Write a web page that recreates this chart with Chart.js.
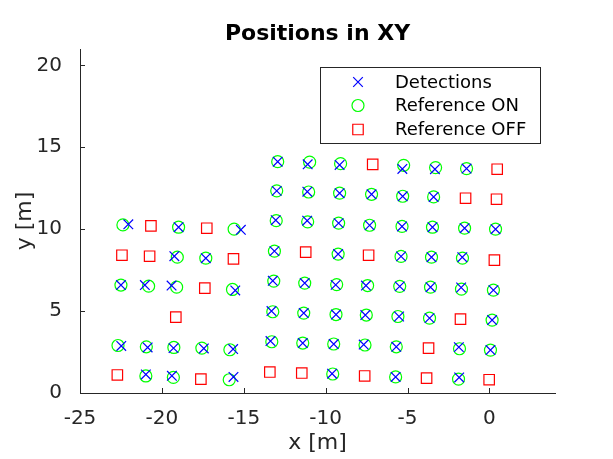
<!DOCTYPE html>
<html><head><meta charset="utf-8">
<script src="https://cdn.jsdelivr.net/npm/chart.js@4"></script>
<style>html,body{margin:0;padding:0;background:#fff}</style>
</head><body>
<canvas id="c" width="613" height="459" style="display:block;width:613px;height:459px"></canvas>
<script>
const chartTitle = 'Positions in XY';
const xLabel = 'x [m]';
const yLabel = 'y [m]';
const xRange = [-25, 4];
const yRange = [0, 21];
const xTicks = [-25, -20, -15, -10, -5, 0];
const yTicks = [0, 5, 10, 15, 20];
const seriesNames = ['Detections', 'Reference ON', 'Reference OFF'];

const detX = [-22.05,-18.98,-15.18, -19.24,-17.32, -22.50,-21.04,-19.41,-15.52, -22.48,-20.87,-19.29,-17.44,-15.65, -20.98,-19.39,-15.63,
  -12.93,-12.99,-13.05,-13.13,-13.23,-13.31,-13.37, -11.10,-11.12,-11.13,-11.28,-11.34,-11.40,
  -9.15,-9.15,-9.21,-9.24,-9.39,-9.37,-9.51,-9.61, -7.20,-7.32,-7.54,-7.58,-7.68,
  -5.32,-5.30,-5.34,-5.40,-5.48,-5.52,-5.69,-5.73, -3.33,-3.41,-3.48,-3.54,-3.60,-3.66,
  -1.40,-1.52,-1.66,-1.73,-1.87,-1.85, 0.37,0.24,0.16,0.06];
const detY = [10.30,10.12,9.96, 8.35,8.23, 6.59,6.59,6.56,6.26, 2.87,2.78,2.74,2.72,2.68, 1.13,1.05,0.98,
  14.12,12.34,10.55,8.66,6.85,5.00,3.17, 13.96,12.29,10.52,6.71,4.88,3.05,
  13.92,12.20,10.37,8.48,6.60,4.79,2.99,1.18, 12.13,10.24,6.56,4.76,2.96,
  13.68,12.01,10.17,8.34,6.51,4.67,2.82,0.98, 13.66,11.97,10.12,8.29,6.46,4.57,
  13.70,10.06,8.29,6.44,2.80,0.95, 10.00,6.28,4.45,2.62];

const onX = [-22.38,-18.98,-15.59, -19.06,-17.32, -22.50,-20.81,-19.10,-15.69, -22.68,-20.95,-19.27,-17.56,-15.85, -20.98,-19.30,-15.89,
  -12.93,-12.99,-13.02,-13.13,-13.17,-13.23,-13.29, -10.98,-11.04,-11.10,-11.28,-11.34,-11.40,
  -9.09,-9.15,-9.21,-9.24,-9.33,-9.37,-9.51,-9.57, -7.20,-7.32,-7.44,-7.52,-7.60,
  -5.24,-5.30,-5.34,-5.40,-5.48,-5.59,-5.69,-5.73, -3.29,-3.41,-3.48,-3.54,-3.60,-3.66,
  -1.40,-1.52,-1.65,-1.71,-1.83,-1.89, 0.37,0.24,0.16,0.06];
const onY = [10.26,10.12,10.00, 8.29,8.23, 6.59,6.52,6.46,6.32, 2.90,2.82,2.78,2.74,2.64, 1.04,0.95,0.81,
  14.12,12.34,10.52,8.66,6.83,4.96,3.13, 14.09,12.27,10.45,6.71,4.88,3.05,
  14.00,12.20,10.37,8.48,6.62,4.79,2.99,1.16, 12.13,10.24,6.56,4.76,2.93,
  13.90,12.01,10.17,8.34,6.51,4.67,2.82,0.98, 13.76,11.97,10.12,8.29,6.46,4.57,
  13.70,10.06,8.23,6.34,2.70,0.85, 10.00,6.28,4.45,2.62];

const offX = [-20.67,-17.26,-22.44,-20.75,-15.63,-17.38,-19.15,-22.72,-17.62,
  -13.41,-11.22,-11.46,-7.13,-7.38,-7.62,-3.72,-3.84,-1.46,-1.77,0.47,0.43,0.30,-0.02];
const offY = [10.20,10.06,8.41,8.35,8.19,6.40,4.63,1.10,0.85,
  1.28,8.60,1.22,13.96,8.41,1.04,2.74,0.91,11.89,4.51,13.66,11.83,8.11,0.81];

const FONT = '"DejaVu Sans", sans-serif';
const AXC = '#262626';
const toPts = (xs, ys) => xs.map((x, i) => ({x: x, y: ys[i]}));

const styles = [
  {pointStyle: 'crossRot', borderColor: '#0000ff', radius: 6.8},
  {pointStyle: 'circle', borderColor: '#00ff00', radius: 6},
  {pointStyle: 'rect', borderColor: '#ff0000', radius: 7.4}
];
const MW = 1.2;

const decor = {
  id: 'decor',
  afterDraw(chart) {
    const ctx = chart.ctx, a = chart.chartArea;
    const xs = chart.scales.x, ys = chart.scales.y;
    ctx.save();
    ctx.strokeStyle = AXC; ctx.lineWidth = 1;
    ctx.beginPath();
    xs.ticks.forEach(t => { const p = Math.round(xs.getPixelForValue(t.value)) + 0.5; ctx.moveTo(p, a.bottom); ctx.lineTo(p, a.bottom - 5); });
    ys.ticks.forEach(t => { const p = Math.round(ys.getPixelForValue(t.value)) + 0.5; ctx.moveTo(a.left, p); ctx.lineTo(a.left + 5, p); });
    ctx.stroke();
    const cx = (a.left + a.right) / 2;
    ctx.fillStyle = '#000';
    ctx.textAlign = 'center';
    ctx.textBaseline = 'alphabetic';
    ctx.font = 'bold 22px ' + FONT;
    ctx.fillText(chartTitle, cx, 40);
    ctx.fillStyle = AXC;
    ctx.font = '22px ' + FONT;
    ctx.fillText(xLabel, cx, 449);
    ctx.save();
    ctx.translate(25, (a.top + a.bottom) / 2);
    ctx.rotate(-Math.PI / 2);
    ctx.textBaseline = 'middle';
    ctx.fillText(yLabel, 0, 0);
    ctx.restore();
    // legend
    const bx = 320.5, by = 67.5, bw = 220, bh = 76;
    ctx.fillStyle = '#fff';
    ctx.fillRect(bx, by, bw, bh);
    ctx.strokeStyle = AXC; ctx.lineWidth = 1;
    ctx.strokeRect(bx, by, bw, bh);
    const rows = [82, 105.5, 129.5];
    ctx.font = '18px ' + FONT;
    ctx.textAlign = 'left';
    ctx.textBaseline = 'middle';
    chart.data.datasets.forEach((ds, i) => {
      ctx.strokeStyle = ds.borderColor; ctx.lineWidth = MW;
      ctx.fillStyle = 'rgba(0,0,0,0)';
      Chart.helpers.drawPoint(ctx, {pointStyle: ds.pointStyle, radius: ds.pointRadius, rotation: 0, borderWidth: MW}, 358, rows[i]);
      ctx.fillStyle = '#000';
      ctx.fillText(ds.label, 395, rows[i] + 1);
    });
    ctx.restore();
  }
};

new Chart(document.getElementById('c'), {
  type: 'scatter',
  data: {
    datasets: [toPts(detX, detY), toPts(onX, onY), toPts(offX, offY)].map((d, i) => ({
      label: seriesNames[i],
      data: d,
      pointStyle: styles[i].pointStyle,
      borderColor: styles[i].borderColor,
      backgroundColor: 'rgba(0,0,0,0)',
      pointRadius: styles[i].radius,
      pointBorderWidth: MW,
      pointHoverRadius: styles[i].radius
    }))
  },
  options: {
    responsive: false,
    animation: false,
    events: [],
    layout: {padding: {top: 49, right: 58, left: 0, bottom: 0}},
    plugins: {legend: {display: false}, title: {display: false}, tooltip: {enabled: false}},
    scales: {
      x: {
        type: 'linear', min: xRange[0], max: xRange[1],
        afterBuildTicks: s => { s.ticks = xTicks.map(v => ({value: v})); },
        afterFit: s => { s.height = 66; },
        grid: {display: false},
        border: {display: true, color: AXC, width: 1},
        ticks: {color: AXC, font: {family: FONT, size: 20}, padding: 6, maxRotation: 0, autoSkip: false}
      },
      y: {
        type: 'linear', min: yRange[0], max: yRange[1],
        afterBuildTicks: s => { s.ticks = yTicks.map(v => ({value: v})); },
        afterFit: s => { s.width = 80; },
        grid: {display: false},
        border: {display: true, color: AXC, width: 1},
        ticks: {color: AXC, font: {family: FONT, size: 20}, padding: 10, autoSkip: false}
      }
    }
  },
  plugins: [decor]
});
</script>
</body></html>
